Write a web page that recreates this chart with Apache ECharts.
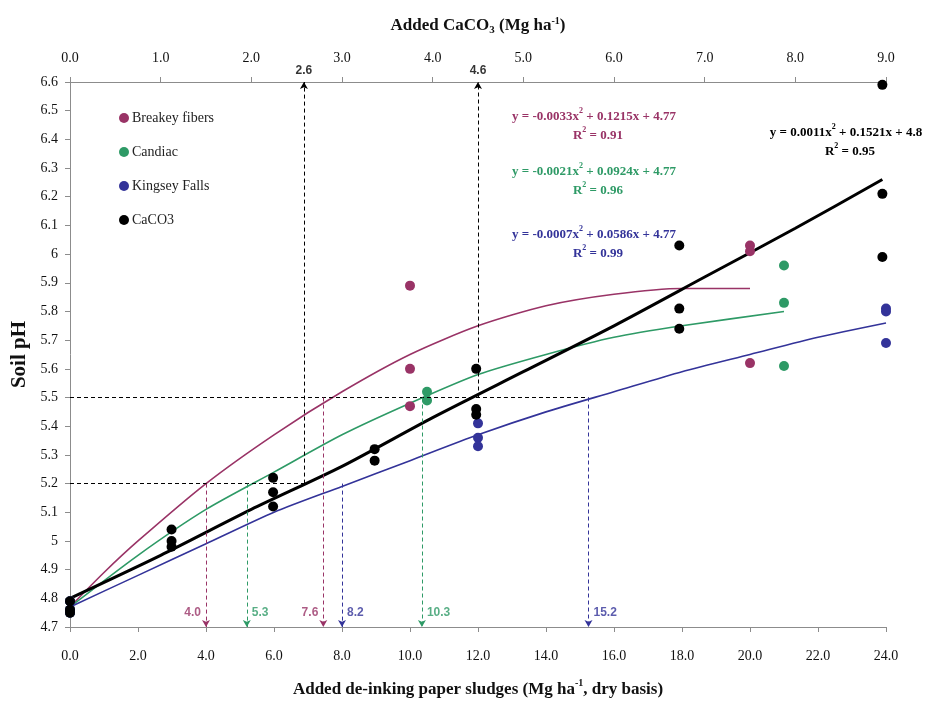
<!DOCTYPE html>
<html>
<head>
<meta charset="utf-8">
<script src="https://cdn.jsdelivr.net/npm/echarts@6/dist/echarts.min.js"></script>
<style>
  html, body { margin: 0; padding: 0; background: #fff; }
  #chart { width: 927px; height: 703px; }
</style>
</head>
<body>
<div id="chart"></div>
<script>
// measured points (x = sludge rate, Mg/ha; CaCO3 on the top axis)
const breakeyX = [0, 0, 0, 10, 10, 10, 20, 20, 20]
const breakeyPH = [4.79, 4.76, 4.75, 5.89, 5.60, 5.47, 6.03, 6.01, 5.62]
const candiacX = [0, 0, 0, 10.5, 10.5, 21, 21, 21]
const candiacPH = [4.79, 4.76, 4.75, 5.52, 5.49, 5.96, 5.83, 5.61]
const kingseyX = [0, 0, 0, 12, 12, 12, 24, 24, 24]
const kingseyPH = [4.79, 4.76, 4.75, 5.41, 5.36, 5.33, 5.81, 5.80, 5.69]
const caco3X = [0, 0, 0, 1.12, 1.12, 1.12, 2.24, 2.24, 2.24, 3.36, 3.36, 4.48, 4.48, 4.48, 6.72, 6.72, 6.72, 8.96, 8.96, 8.96]
const caco3PH = [4.79, 4.76, 4.75, 5.04, 5.00, 4.98, 5.22, 5.17, 5.12, 5.32, 5.28, 5.60, 5.46, 5.44, 6.03, 5.81, 5.74, 6.59, 6.21, 5.99]

// fitted curves
const breakeyFitX = [0, 1, 2, 4, 6, 8, 10, 12, 14, 16, 18, 20]
const breakeyFitPH = [4.77, 4.89, 5.00, 5.20, 5.37, 5.52, 5.65, 5.75, 5.82, 5.86, 5.88, 5.88]
const candiacFitX = [0, 2, 4, 6, 8, 10, 12, 14, 16, 18, 21]
const candiacFitPH = [4.77, 4.95, 5.11, 5.24, 5.37, 5.48, 5.58, 5.65, 5.71, 5.75, 5.80]
const kingseyFitX = [0, 2, 4, 6, 8, 10, 12, 14, 16, 18, 20, 22, 24]
const kingseyFitPH = [4.77, 4.88, 4.99, 5.10, 5.19, 5.28, 5.37, 5.45, 5.52, 5.59, 5.65, 5.71, 5.76]
const caco3FitX = [0, 1, 2, 3, 4, 5, 6, 7, 8, 8.96]
const caco3FitPH = [4.80, 4.95, 5.11, 5.26, 5.43, 5.59, 5.75, 5.92, 6.09, 6.26]

// target pH and where each curve reaches it
const targetPH = [5.2, 5.5]
const breakeyCut = [4.0, 7.45]
const candiacCut = [5.2, 10.35]
const kingseyCut = [8.0, 15.25]
const caco3Cut = [2.58, 4.5]
const breakeyCutLabels = ['4.0', '7.6']
const candiacCutLabels = ['5.3', '10.3']
const kingseyCutLabels = ['8.2', '15.2']
const caco3CutLabels = ['2.6', '4.6']

// axes
const sludgeMin = 0
const sludgeMax = 24
const sludgeStep = 2
const limeMin = 0
const limeMax = 9
const limeStep = 1
const phMin = 4.7
const phMax = 6.6
const phStep = 0.1

const MAGENTA = '#993366'
const GREEN = '#2e9a66'
const BLUE = '#333399'
const BLACK = '#000'
const SERIF = '"Liberation Serif", "Times New Roman", serif'
const SANS = '"Liberation Sans", Arial, sans-serif'
const AXIS_GREY = '#8c8c8c'

const chart = echarts.init(document.getElementById('chart'))

const pairs = (xs, ys) => xs.map((x, i) => [x, ys[i]])

const dashed = { type: [4, 3], width: 1 }

function dropLines (cuts, color) {
  return {
    silent: true,
    symbol: ['none', 'arrow'],
    symbolSize: [6, 7],
    label: { show: false },
    lineStyle: { color: color, ...dashed },
    emphasis: { disabled: true },
    data: cuts.map((c, i) => [{ coord: [c, targetPH[i]] }, { coord: [c, phMin] }])
  }
}

function cutText (name, cuts, labels, color, sides, xAxisIndex, y) {
  return {
    name: name,
    type: 'scatter',
    xAxisIndex: xAxisIndex,
    symbolSize: 0,
    silent: true,
    clip: false,
    z: 5,
    data: cuts.map((c, i) => ({
      value: [c, y],
      label: {
        show: true,
        formatter: labels[i],
        position: sides[i],
        distance: 5,
        color: color,
        fontFamily: SANS,
        fontWeight: 'bold',
        fontSize: 12
      }
    }))
  }
}

function points (name, xs, ys, color, xAxisIndex) {
  return {
    name: name,
    type: 'scatter',
    xAxisIndex: xAxisIndex,
    symbol: 'circle',
    symbolSize: 10,
    itemStyle: { color: color, opacity: 1 },
    z: 4,
    data: pairs(xs, ys)
  }
}

function fit (name, xs, ys, color, width, xAxisIndex, extra) {
  return {
    name: name,
    type: 'line',
    xAxisIndex: xAxisIndex,
    smooth: 0.25,
    showSymbol: false,
    silent: true,
    lineStyle: { color: color, width: width },
    z: width > 2 ? 3 : 2,
    data: pairs(xs, ys),
    ...extra
  }
}

function eqRich (color) {
  return {
    t: { fontSize: 13, fontWeight: 'bold', fontFamily: SERIF, fill: color, lineHeight: 16, verticalAlign: 'bottom' },
    s: { fontSize: 8, fontWeight: 'bold', fontFamily: SERIF, fill: color, lineHeight: 12, verticalAlign: 'top' }
  }
}

function equation (x, y, a, rest, r2, color) {
  return [
    {
      type: 'text',
      x: x,
      y: y,
      style: {
        text: '{t|y = ' + a + 'x}{s|2}{t| ' + rest + '}',
        align: 'center',
        verticalAlign: 'middle',
        rich: eqRich(color)
      }
    },
    {
      type: 'text',
      x: x + 4,
      y: y + 19,
      style: {
        text: '{t|R}{s|2}{t| = ' + r2 + '}',
        align: 'center',
        verticalAlign: 'middle',
        rich: eqRich(color)
      }
    }
  ]
}

const option = {
  animation: false,
  backgroundColor: '#fff',
  grid: { left: 70, right: 41, top: 82, bottom: 71 },
  legend: {
    data: ['Breakey fibers', 'Candiac', 'Kingsey Falls', 'CaCO3'],
    orient: 'vertical',
    left: 114,
    top: 106,
    icon: 'circle',
    itemWidth: 10,
    itemHeight: 10,
    itemGap: 20,
    textStyle: { fontFamily: SERIF, fontSize: 14, color: '#222', padding: [0, 0, 0, -2] }
  },
  xAxis: [
    {
      type: 'value',
      position: 'bottom',
      min: sludgeMin,
      max: sludgeMax,
      interval: sludgeStep,
      splitLine: { show: false },
      axisLine: { onZero: false, lineStyle: { color: AXIS_GREY } },
      axisTick: { show: true, length: 5, lineStyle: { color: AXIS_GREY } },
      axisLabel: { margin: 22, color: '#111', fontFamily: SERIF, fontSize: 14, formatter: v => v.toFixed(1) },
      name: '{b|Added de-inking paper sludges (Mg ha}{p|-1}{b|, dry basis)}',
      nameLocation: 'middle',
      nameGap: 51,
      nameTextStyle: {
        rich: {
          b: { fontFamily: SERIF, fontWeight: 'bold', fontSize: 17, color: '#111', lineHeight: 20, verticalAlign: 'bottom' },
          p: { fontFamily: SERIF, fontWeight: 'bold', fontSize: 10, color: '#111', lineHeight: 14, verticalAlign: 'top' }
        }
      }
    },
    {
      type: 'value',
      position: 'top',
      min: limeMin,
      max: limeMax,
      interval: limeStep,
      splitLine: { show: false },
      axisLine: { onZero: false, lineStyle: { color: AXIS_GREY } },
      axisTick: { show: true, inside: false, length: 5, lineStyle: { color: AXIS_GREY } },
      axisLabel: { margin: 17, color: '#111', fontFamily: SERIF, fontSize: 14, formatter: v => v.toFixed(1) },
      name: '{b|Added CaCO}{d|3}{b| (Mg ha}{p|-1}{b|)}',
      nameLocation: 'middle',
      nameGap: 46,
      nameTextStyle: {
        rich: {
          b: { fontFamily: SERIF, fontWeight: 'bold', fontSize: 17, color: '#111', lineHeight: 20, verticalAlign: 'middle' },
          d: { fontFamily: SERIF, fontWeight: 'bold', fontSize: 11, color: '#111', lineHeight: 12, verticalAlign: 'bottom' },
          p: { fontFamily: SERIF, fontWeight: 'bold', fontSize: 10, color: '#111', lineHeight: 14, verticalAlign: 'top' }
        }
      }
    }
  ],
  yAxis: {
    type: 'value',
    min: phMin,
    max: phMax,
    interval: phStep,
    splitLine: { show: false },
    axisLine: { show: true, onZero: false, lineStyle: { color: AXIS_GREY } },
    axisTick: { show: true, length: 5, lineStyle: { color: AXIS_GREY } },
    axisLabel: { margin: 12, color: '#111', fontFamily: SERIF, fontSize: 14, formatter: v => String(Math.round(v * 10) / 10) },
    name: 'Soil pH',
    nameLocation: 'middle',
    nameGap: 26,
    nameTextStyle: { fontFamily: SERIF, fontWeight: 'bold', fontSize: 21, color: '#111' }
  },
  graphic: [
    ...equation(594, 115, '-0.0033', '+ 0.1215x + 4.77', '0.91', MAGENTA),
    ...equation(594, 170, '-0.0021', '+ 0.0924x + 4.77', '0.96', GREEN),
    ...equation(594, 233, '-0.0007', '+ 0.0586x + 4.77', '0.99', BLUE),
    ...equation(846, 131, '0.0011', '+ 0.1521x + 4.8', '0.95', BLACK)
  ],
  series: [
    // horizontal target lines
    {
      name: 'targets',
      type: 'line',
      data: [],
      silent: true,
      markLine: {
        silent: true,
        symbol: ['none', 'none'],
        label: { show: false },
        lineStyle: { color: BLACK, ...dashed },
        emphasis: { disabled: true },
        data: [
          [{ coord: [sludgeMin, targetPH[0]] }, { coord: [caco3Cut[0] * sludgeMax / limeMax, targetPH[0]] }],
          [{ coord: [sludgeMin, targetPH[1]] }, { coord: [kingseyCut[1], targetPH[1]] }]
        ]
      }
    },
    fit('Breakey fit', breakeyFitX, breakeyFitPH, MAGENTA, 1.6, 0, { markLine: dropLines(breakeyCut, MAGENTA) }),
    fit('Candiac fit', candiacFitX, candiacFitPH, GREEN, 1.6, 0, { markLine: dropLines(candiacCut, GREEN) }),
    fit('Kingsey fit', kingseyFitX, kingseyFitPH, BLUE, 1.6, 0, { markLine: dropLines(kingseyCut, BLUE) }),
    fit('CaCO3 fit', caco3FitX, caco3FitPH, BLACK, 3, 1, {
      markLine: {
        silent: true,
        symbol: ['none', 'arrow'],
        symbolSize: [6, 7],
        label: { show: false },
        lineStyle: { color: BLACK, ...dashed },
        emphasis: { disabled: true },
        data: caco3Cut.map((c, i) => [{ coord: [c, targetPH[i]] }, { coord: [c, phMax] }])
      }
    }),
    points('Breakey fibers', breakeyX, breakeyPH, MAGENTA, 0),
    points('Candiac', candiacX, candiacPH, GREEN, 0),
    points('Kingsey Falls', kingseyX, kingseyPH, BLUE, 0),
    points('CaCO3', caco3X, caco3PH, BLACK, 1),
    cutText('breakey labels', breakeyCut, breakeyCutLabels, MAGENTA, ['left', 'left'], 0, 4.75),
    cutText('candiac labels', candiacCut, candiacCutLabels, GREEN, ['right', 'right'], 0, 4.75),
    cutText('kingsey labels', kingseyCut, kingseyCutLabels, BLUE, ['right', 'right'], 0, 4.75),
    cutText('caco3 labels', caco3Cut, caco3CutLabels, BLACK, ['top', 'top'], 1, phMax)
  ]
}

chart.setOption(option)
</script>
</body>
</html>
